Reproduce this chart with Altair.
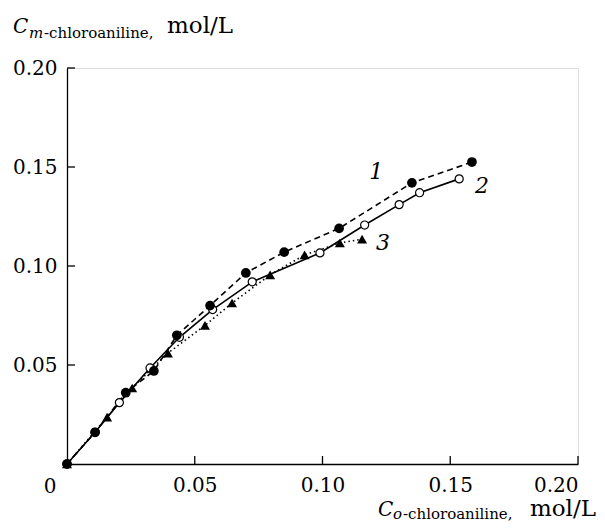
import altair as alt
import pandas as pd

# Series 1: filled circles, dashed
s1_x = [0.0, 0.011, 0.023, 0.034, 0.043, 0.056, 0.070, 0.085, 0.1065, 0.135, 0.1585]
s1_y = [0.0, 0.016, 0.036, 0.047, 0.065, 0.080, 0.0965, 0.107, 0.119, 0.142, 0.1525]
# Series 2: open circles, solid
s2_x = [0.0, 0.011, 0.0205, 0.0325, 0.044, 0.057, 0.0725, 0.099, 0.1165, 0.130, 0.138, 0.1535]
s2_y = [0.0, 0.016, 0.031, 0.0485, 0.064, 0.078, 0.092, 0.1066, 0.1207, 0.131, 0.137, 0.144]
# Series 3: filled triangles, dotted
s3_x = [0.0, 0.0157, 0.0255, 0.0395, 0.054, 0.0646, 0.0795, 0.093, 0.1068, 0.1155]
s3_y = [0.0, 0.0237, 0.0384, 0.056, 0.070, 0.0813, 0.0955, 0.1056, 0.1116, 0.1136]

curve_labels = ["1", "2", "3"]
curve_label_x = [0.121, 0.1624, 0.1237]
curve_label_y = [0.1475, 0.1404, 0.1116]

tick_values = [0.05, 0.10, 0.15, 0.20]

W, H = 511, 396
FONT = "DejaVu Serif"

d1 = pd.DataFrame({"x": s1_x, "y": s1_y})
d2 = pd.DataFrame({"x": s2_x, "y": s2_y})
d3 = pd.DataFrame({"x": s3_x, "y": s3_y})
dl = pd.DataFrame({"t": curve_labels, "x": curve_label_x, "y": curve_label_y})
dt = pd.DataFrame({"v": tick_values})

xs = alt.Scale(domain=[0, 0.2], nice=False, zero=True)
ys = alt.Scale(domain=[0, 0.2], nice=False, zero=True)

xax = alt.Axis(values=[0, 0.05, 0.1, 0.15, 0.2], ticks=False, grid=False,
               labelExpr="datum.value == 0 ? '' : format(datum.value, '.2f')",
               labelFont=FONT, labelFontSize=20, labelColor="black",
               labelPadding=11, domainColor="black", domainWidth=1.3, title=None)
yax = alt.Axis(values=[0.05, 0.1, 0.15, 0.2], ticks=False, grid=False,
               format=".2f", labelFont=FONT, labelFontSize=20, labelColor="black",
               labelPadding=10, domainColor="black", domainWidth=1.3, title=None)

X = alt.X("x:Q", scale=xs, axis=xax)
Y = alt.Y("y:Q", scale=ys, axis=yax)

l1 = alt.Chart(d1).mark_line(color="black", strokeWidth=1.6, strokeDash=[6, 4]).encode(x=X, y=Y)
l2 = alt.Chart(d2).mark_line(color="black", strokeWidth=1.6).encode(x=X, y=Y)
l3 = alt.Chart(d3).mark_line(color="black", strokeWidth=1.6, strokeDash=[1.5, 3]).encode(x=X, y=Y)

p2 = alt.Chart(d2).mark_point(shape="circle", filled=True, fill="white", stroke="black",
                              strokeWidth=1.2, size=65, opacity=1).encode(x=X, y=Y)
p3 = alt.Chart(d3).mark_point(shape="triangle-up", filled=True, color="black",
                              size=100, opacity=1).encode(x=X, y=Y)
p1 = alt.Chart(d1).mark_point(shape="circle", filled=True, color="black",
                              size=95, opacity=1).encode(x=X, y=Y)

lab = alt.Chart(dl).mark_text(font=FONT, fontSize=22, fontStyle="italic", color="black",
                              align="center", baseline="middle").encode(x=X, y=Y, text="t:N")

xt = alt.Chart(dt).mark_rule(color="black", strokeWidth=1.3).encode(
    x=alt.X("v:Q", scale=xs, axis=xax), y=alt.value(H - 8), y2=alt.value(H))
yt = alt.Chart(dt).mark_rule(color="black", strokeWidth=1.3).encode(
    y=alt.Y("v:Q", scale=ys, axis=yax), x=alt.value(0), x2=alt.value(8))

def txt(s, px, py, size, style="normal", align="left"):
    return alt.Chart(pd.DataFrame({"t": [s]})).mark_text(
        font=FONT, fontSize=size, fontStyle=style, color="black",
        align=align, baseline="alphabetic").encode(
        x=alt.value(px), y=alt.value(py), text="t:N")

zero_lab = alt.Chart(pd.DataFrame({"t": ["0"]})).mark_text(
    font=FONT, fontSize=20, color="black", align="center", baseline="middle").encode(
    x=alt.value(-17), y=alt.value(H + 23), text="t:N")

# y title (top-left) relative to plot origin at page (67, 68)
yt1 = txt("C", 13 - 67, 33 - 68, 20, "italic")
yt2 = txt("m", 29 - 67, 38 - 68, 15, "italic")
yt3 = txt("-chloroaniline,", 44 - 67, 38 - 68, 15)
yt4 = txt("mol/L", 167 - 67, 33 - 68, 23)

# x title (bottom-right)
xt1 = txt("C", 378 - 67, 516 - 68, 20, "italic")
xt2 = txt("o", 393 - 67, 519 - 68, 15, "italic")
xt3 = txt("-chloroaniline,", 403 - 67, 519 - 68, 15)
xt4 = txt("mol/L", 596 - 67, 516 - 68, 23, align="right")

chart = alt.layer(
    l1, l2, l3, xt, yt, p2, p3, p1, lab, zero_lab,
    yt1, yt2, yt3, yt4, xt1, xt2, xt3, xt4
).properties(
    width=W, height=H,
    autosize=alt.AutoSizeParams(type="none"),
    padding={"left": 59, "top": 60, "right": 19, "bottom": 59},
).configure_view(strokeWidth=0).configure(background="white")

chart.save("out.html", embed_options={"renderer": "svg", "actions": False})
